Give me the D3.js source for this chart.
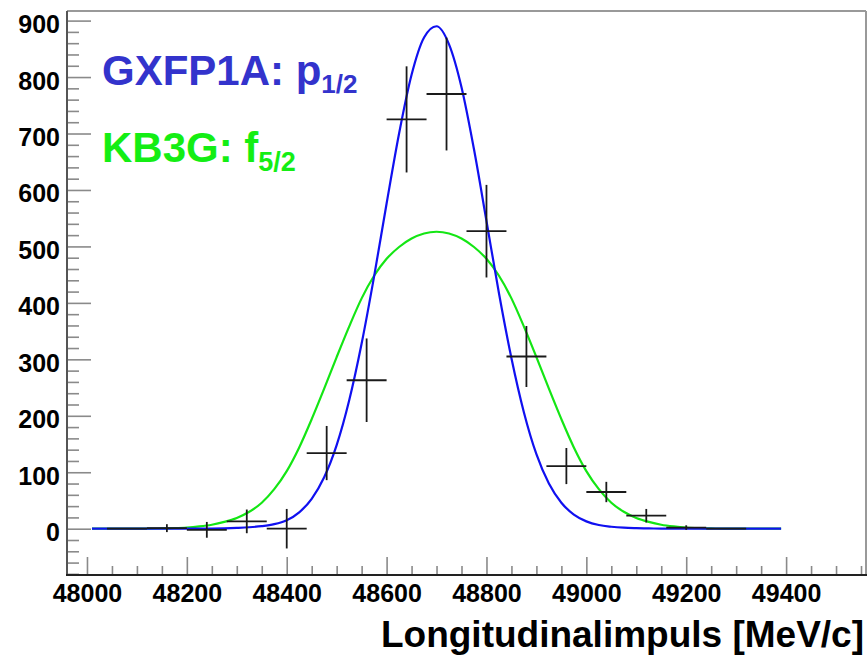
<!DOCTYPE html>
<html>
<head>
<meta charset="utf-8">
<script src="https://cdn.jsdelivr.net/npm/d3@7"></script>
<style>
  html, body { margin: 0; padding: 0; background: #fff; }
  svg { display: block; }
  text { font-family: "Liberation Sans", Arial, Helvetica, sans-serif; font-weight: bold; }
</style>
</head>
<body>
<svg id="chart" width="867" height="655"></svg>
<script>
// Histogram of the longitudinal momentum (bin centres, contents, errors)
const binCenters = [48080, 48160, 48240, 48320, 48400, 48480, 48560, 48640, 48720, 48800, 48880, 48960, 49040, 49120, 49200, 49280];
const binCounts  = [0, 1, -2, 13, 0, 134, 263, 725, 770, 527, 305, 111, 65, 23, 2, 0];
const binErrors  = [0, 7, 14, 21, 35, 48, 74, 94, 100, 82, 54, 32, 18, 12, 4, 0];
const binHalfWidth = 40;

// Calculated distributions sampled along the momentum axis
const fitX = [48010, 48100, 48125, 48150, 48175, 48200, 48225, 48250, 48275, 48300, 48325, 48350, 48375,
              48400, 48425, 48450, 48475, 48500, 48525, 48550, 48575, 48600, 48625, 48650, 48675,
              48700, 48725, 48750, 48775, 48800, 48825, 48850, 48875, 48900, 48925, 48950, 48975,
              49000, 49025, 49050, 49075, 49100, 49125, 49150, 49175, 49200, 49225, 49250, 49275, 49300, 49390];
const gxfp1aY = [0, 0, 0, 0, 0, 0, 0.1, 0.3, 0.7, 1.5, 2.6, 4.5, 8,
                 15, 29, 53, 91, 148, 227, 328, 447, 576, 700, 804, 870,
                 890, 858, 782, 672, 545, 417, 302, 206, 132, 80, 46, 25,
                 13, 6.5, 3.5, 1.8, 1, 0.5, 0.3, 0.1, 0, 0, 0, 0, 0, 0];
const kb3gY   = [0, 0, 0.2, 0.5, 1, 2, 4, 7, 12, 19, 30, 46, 70,
                 102, 144, 194, 248, 304, 358, 408, 448, 478, 499, 514, 523,
                 526, 523, 514, 499, 478, 448, 408, 358, 304, 248, 194, 144,
                 102, 70, 46, 30, 19, 12, 7, 4, 2, 1, 0.5, 0.2, 0, 0];

// Axis ticks
const xMajorTicks = [48000, 48200, 48400, 48600, 48800, 49000, 49200, 49400];
const xMinorStep = 50;
const yMajorTicks = [0, 100, 200, 300, 400, 500, 600, 700, 800, 900];
const yMinorStep = 20;

const xDomain = [47960, 49560];
const yDomain = [-82, 917];
const xTitle = "Longitudinalimpuls [MeV/c]";

const svg = d3.select("#chart");
const plot = { left: 67, right: 866, top: 11, bottom: 575 };

const x = d3.scaleLinear().domain(xDomain).range([plot.left, plot.right]);
const y = d3.scaleLinear().domain(yDomain).range([plot.bottom, plot.top]);

const xMinorTicks = d3.range(48000, xDomain[1] + 1, xMinorStep).filter(v => !xMajorTicks.includes(v));
const yMinorTicks = d3.range(-80, yDomain[1], yMinorStep).filter(v => !yMajorTicks.includes(v));

// Frame (top and right)
svg.append("line").attr("x1", plot.left).attr("x2", plot.right).attr("y1", plot.top).attr("y2", plot.top)
  .attr("stroke", "#999").attr("stroke-width", 2);
svg.append("line").attr("x1", plot.right).attr("x2", plot.right).attr("y1", plot.top).attr("y2", plot.bottom)
  .attr("stroke", "#999").attr("stroke-width", 2);

// Y axis: inward ticks, labels on the left
const yMinorAxis = d3.axisLeft(y).tickValues(yMinorTicks).tickSize(-12).tickFormat("");
const yMajorAxis = d3.axisLeft(y).tickValues(yMajorTicks).tickSize(-24).tickPadding(7).tickFormat(d3.format("d"));
const gyMinor = svg.append("g").attr("transform", `translate(${plot.left},0)`).call(yMinorAxis);
const gyMajor = svg.append("g").attr("transform", `translate(${plot.left},0)`).call(yMajorAxis);
[gyMinor, gyMajor].forEach(g => {
  g.select(".domain").remove();
  g.selectAll(".tick line").attr("stroke", "#8a8a8a").attr("stroke-width", 1.6);
});
gyMajor.selectAll(".tick text").attr("font-size", 25).attr("fill", "#000").attr("dy", "0.48em");

// X axis: inward ticks, labels below
const xMinorAxis = d3.axisBottom(x).tickValues(xMinorTicks).tickSize(-9).tickFormat("");
const xMajorAxis = d3.axisBottom(x).tickValues(xMajorTicks).tickSize(-18).tickPadding(9).tickFormat(d3.format("d"));
const gxMinor = svg.append("g").attr("transform", `translate(0,${plot.bottom})`).call(xMinorAxis);
const gxMajor = svg.append("g").attr("transform", `translate(0,${plot.bottom})`).call(xMajorAxis);
[gxMinor, gxMajor].forEach(g => {
  g.select(".domain").remove();
  g.selectAll(".tick line").attr("stroke", "#8a8a8a").attr("stroke-width", 1.6);
});
gxMajor.selectAll(".tick text").attr("font-size", 25).attr("fill", "#000");

// Axis lines
svg.append("line").attr("x1", plot.left).attr("x2", plot.left).attr("y1", plot.top).attr("y2", plot.bottom)
  .attr("stroke", "#555").attr("stroke-width", 2);
svg.append("line").attr("x1", plot.left - 1).attr("x2", plot.right + 1).attr("y1", plot.bottom).attr("y2", plot.bottom)
  .attr("stroke", "#222").attr("stroke-width", 2.2);

// Axis title
svg.append("text").attr("x", 864).attr("y", 647).attr("text-anchor", "end")
  .attr("font-size", 37).attr("fill", "#000").text(xTitle);

// Curves
const line = (ys) => d3.line()
  .x((d, i) => x(fitX[i]))
  .y((d, i) => y(ys[i]))
  .curve(d3.curveMonotoneX)(fitX);

svg.append("path").attr("d", line(kb3gY)).attr("fill", "none")
  .attr("stroke", "#14e614").attr("stroke-width", 2.2);
svg.append("path").attr("d", line(gxfp1aY)).attr("fill", "none")
  .attr("stroke", "#1010f0").attr("stroke-width", 2.2);

// Histogram error crosses
const hist = svg.append("g").attr("stroke", "#1a1a1a").attr("stroke-width", 1.8);
binCenters.forEach((c, i) => {
  hist.append("line")
    .attr("x1", x(c - binHalfWidth)).attr("x2", x(c + binHalfWidth))
    .attr("y1", y(binCounts[i])).attr("y2", y(binCounts[i]));
  if (binErrors[i] > 0) {
    hist.append("line")
      .attr("x1", x(c)).attr("x2", x(c))
      .attr("y1", y(binCounts[i] - binErrors[i])).attr("y2", y(binCounts[i] + binErrors[i]));
  }
});

// Labels for the two calculations
const lab1 = svg.append("text").attr("x", 102).attr("y", 85).attr("font-size", 42).attr("fill", "#3333cc");
lab1.append("tspan").text("GXFP1A: p");
lab1.append("tspan").attr("font-size", 26).attr("dy", 8).text("1/2");

const lab2 = svg.append("text").attr("x", 102).attr("y", 162).attr("font-size", 42).attr("fill", "#14ee14");
lab2.append("tspan").text("KB3G: f");
lab2.append("tspan").attr("font-size", 27).attr("dy", 9).text("5/2");
</script>
</body>
</html>
